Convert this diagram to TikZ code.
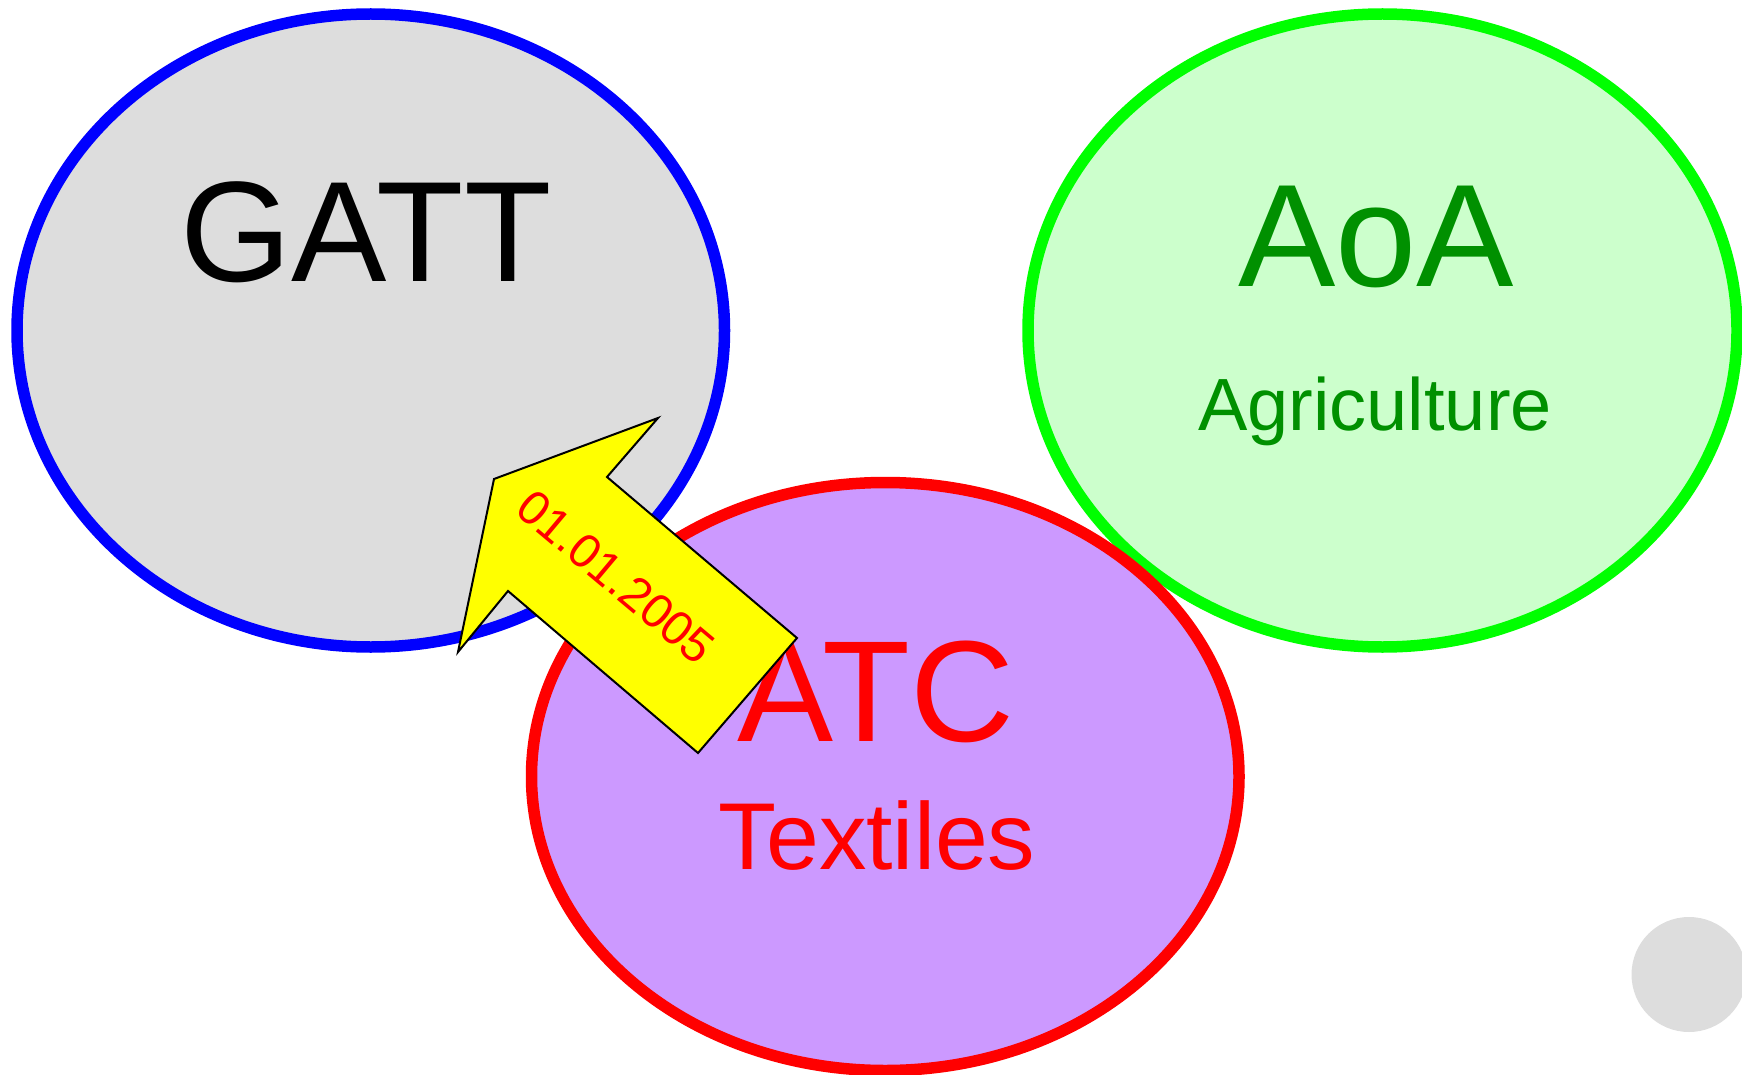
\documentclass[tikz,border=0pt]{standalone}
\usepackage{fontspec}
\setmainfont{Liberation Sans}
\usetikzlibrary{shapes.geometric}
\definecolor{gattfill}{HTML}{DDDDDD}
\definecolor{aoafill}{HTML}{CCFFCC}
\definecolor{atcfill}{HTML}{CC99FF}
\definecolor{aoatext}{HTML}{009000}
\definecolor{arrowyellow}{HTML}{FFFF00}
\begin{document}
\begin{tikzpicture}[x=1pt,y=-1pt,
  blob/.style={ellipse, line width=11.5pt, inner sep=0pt},
  bigtxt/.style={font=\fontsize{143}{143}\selectfont, anchor=base, inner sep=0pt},
  subtxt/.style={anchor=base, inner sep=0pt},
  arrowshape/.style={fill=arrowyellow, draw=black, line width=2pt, line join=miter}]
\useasboundingbox (0,0) rectangle (1742,1075);
\node[blob, draw=blue, fill=gattfill, minimum width=707.5pt, minimum height=633pt] (gatt) at (370.75,330.5) {};
\node[blob, draw={rgb,255:red,0;green,255;blue,0}, fill=aoafill, minimum width=709pt, minimum height=633pt] (aoa) at (1382.5,330.5) {};
\node[blob, draw=red, fill=atcfill, minimum width=707.5pt, minimum height=588pt] (atc) at (885.25,776.5) {};
\node[bigtxt, text=black] (gattlbl) at (366,281) {GATT};
\node[bigtxt, text=aoatext, font=\fontsize{146}{146}\selectfont] (aoalbl) at (1376,287) {AoA};
\node[subtxt, text=aoatext, font=\fontsize{74}{74}\selectfont] (agri) at (1375,430) {Agriculture};
\node[bigtxt, text=red, font=\fontsize{144}{144}\selectfont] (atclbl) at (876,741) {ATC};
\node[subtxt, text=red, font=\fontsize{95}{95}\selectfont] (text) at (877,869) {Textiles};
\coordinate (tip) at (458,652);
\coordinate (b1) at (494,479);
\coordinate (b2) at (658,418);
\coordinate (n1) at (607,477);
\coordinate (e1) at (797,638);
\coordinate (e2) at (698,753);
\coordinate (n2) at (508,591);
\draw[arrowshape] (tip) -- (b1) -- (b2) -- (n1) -- (e1) -- (e2) -- (n2) -- cycle;
\node[text=red, draw=red, draw opacity=0, rotate=-40, inner sep=0pt, font=\fontsize{48}{48}\selectfont] (date) at (616,577) {01.01.2005};
\node[circle, fill=gattfill, minimum size=115pt, inner sep=0pt] (dot) at (1689,974.5) {};
\end{tikzpicture}
\end{document}
